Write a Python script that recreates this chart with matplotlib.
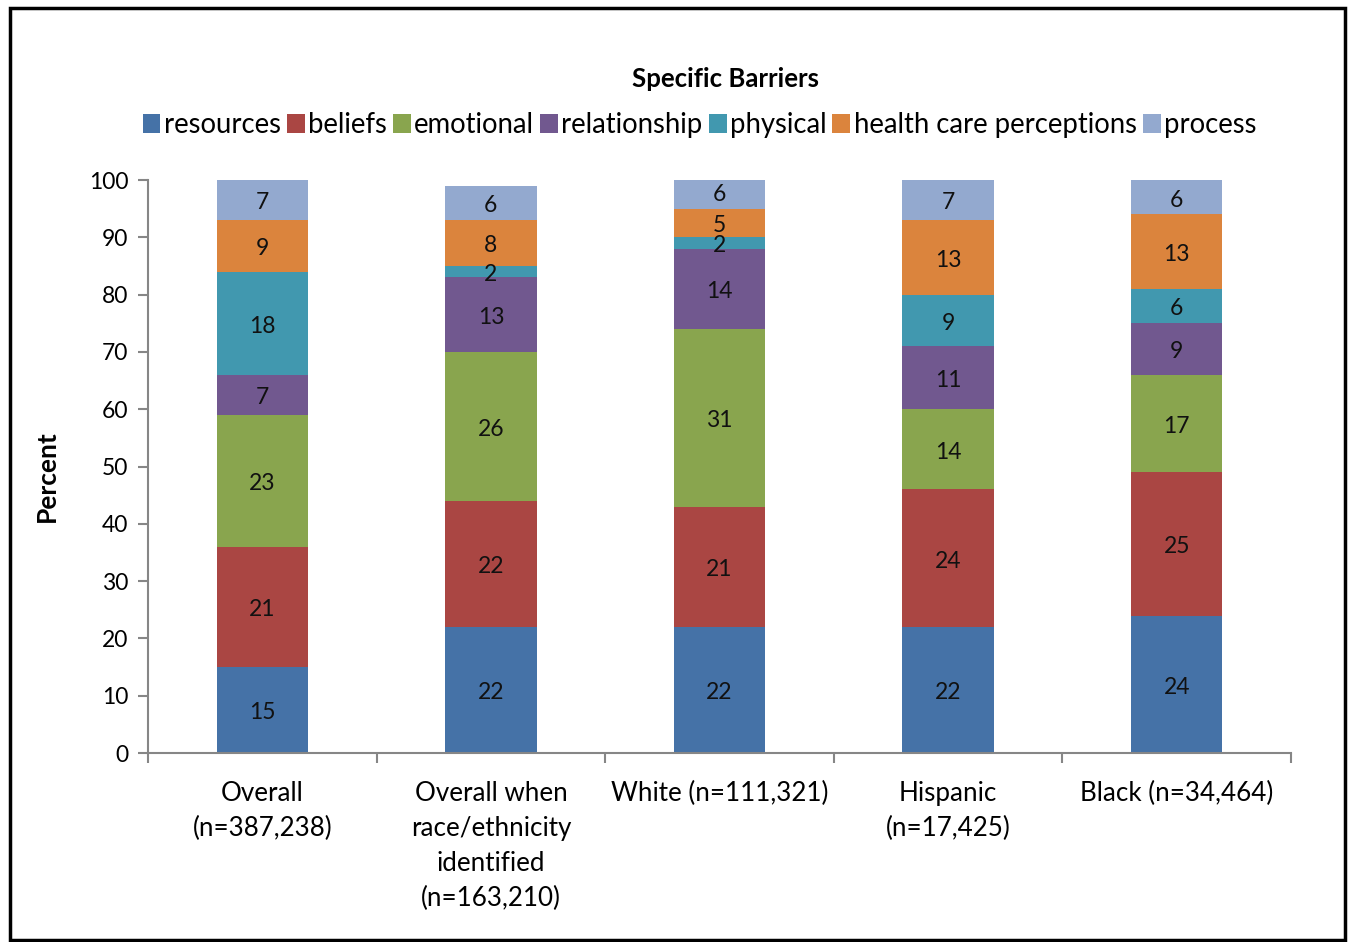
import numpy as np
import matplotlib.pyplot as plt
from matplotlib.patches import Rectangle

plt.rcParams['font.family'] = ['Lato', 'DejaVu Sans']

groups = ['Overall\n(n=387,238)',
          'Overall when\nrace/ethnicity\nidentified\n(n=163,210)',
          'White (n=111,321)',
          'Hispanic\n(n=17,425)',
          'Black (n=34,464)']
barriers = ['resources', 'beliefs', 'emotional', 'relationship', 'physical',
            'health care perceptions', 'process']
resources = [15, 22, 22, 22, 24]
beliefs = [21, 22, 21, 24, 25]
emotional = [23, 26, 31, 14, 17]
relationship = [7, 13, 14, 11, 9]
physical = [18, 2, 2, 9, 6]
health_care = [9, 8, 5, 13, 13]
process = [7, 6, 6, 7, 6]
series = [resources, beliefs, emotional, relationship, physical, health_care, process]
colors = ['#4572A7', '#AA4643', '#89A54E', '#71588F', '#4198AF', '#DB843D', '#93A9CF']

fig = plt.figure(figsize=(13.53, 9.42), dpi=100)
ax = fig.add_axes([0.1094, 0.2006, 0.8448, 0.6083])

x = np.arange(len(groups))
bottom = np.zeros(len(groups))
for name, vals, c in zip(barriers, series, colors):
    vals = np.array(vals, dtype=float)
    ax.bar(x, vals, 0.4, bottom=bottom, color=c, label=name, zorder=2)
    for xi, b, v in zip(x, bottom, vals):
        ax.text(xi, b + v / 2 - 0.5, f'{int(v)}', ha='center', va='center',
                fontsize=16.5, color='#111111')
    bottom += vals

ax.set_xlim(-0.5, len(groups) - 0.5)
ax.set_ylim(0, 100)
ax.set_yticks(range(0, 101, 10))
ax.set_xticks(x)
ax.set_xticklabels(groups, fontsize=18.7, linespacing=1.5, va='top')
ax.set_xticks(np.arange(-0.5, len(groups), 1), minor=True)
ax.tick_params(axis='x', which='major', length=0, pad=20)
ax.tick_params(axis='x', which='minor', length=7, width=1.5, color='#868686', direction='out')
ax.tick_params(axis='y', labelsize=16.5, length=7, width=1.5, color='#868686', pad=7)
for s in ['top', 'right']:
    ax.spines[s].set_visible(False)
for s in ['left', 'bottom']:
    ax.spines[s].set_color('#868686')
    ax.spines[s].set_linewidth(1.5)

fig.text(0.035, 0.495, 'Percent', rotation=90, ha='center', va='center',
         fontsize=19, fontweight='bold')
fig.text(0.536, 0.916, 'Specific Barriers', ha='center', va='center',
         fontsize=18.5, fontweight='bold')
fig.legend(loc='center', bbox_to_anchor=(0.517, 0.867), ncol=7, frameon=False,
           fontsize=19.8, handlelength=0.65, handleheight=0.65, handletextpad=0.12,
           columnspacing=0.22)

fig.patches.append(Rectangle((0.0074, 0.0021), 0.987, 0.9894, transform=fig.transFigure,
                             fill=False, edgecolor='black', linewidth=2.5))

fig.savefig('out.png', dpi=100)
